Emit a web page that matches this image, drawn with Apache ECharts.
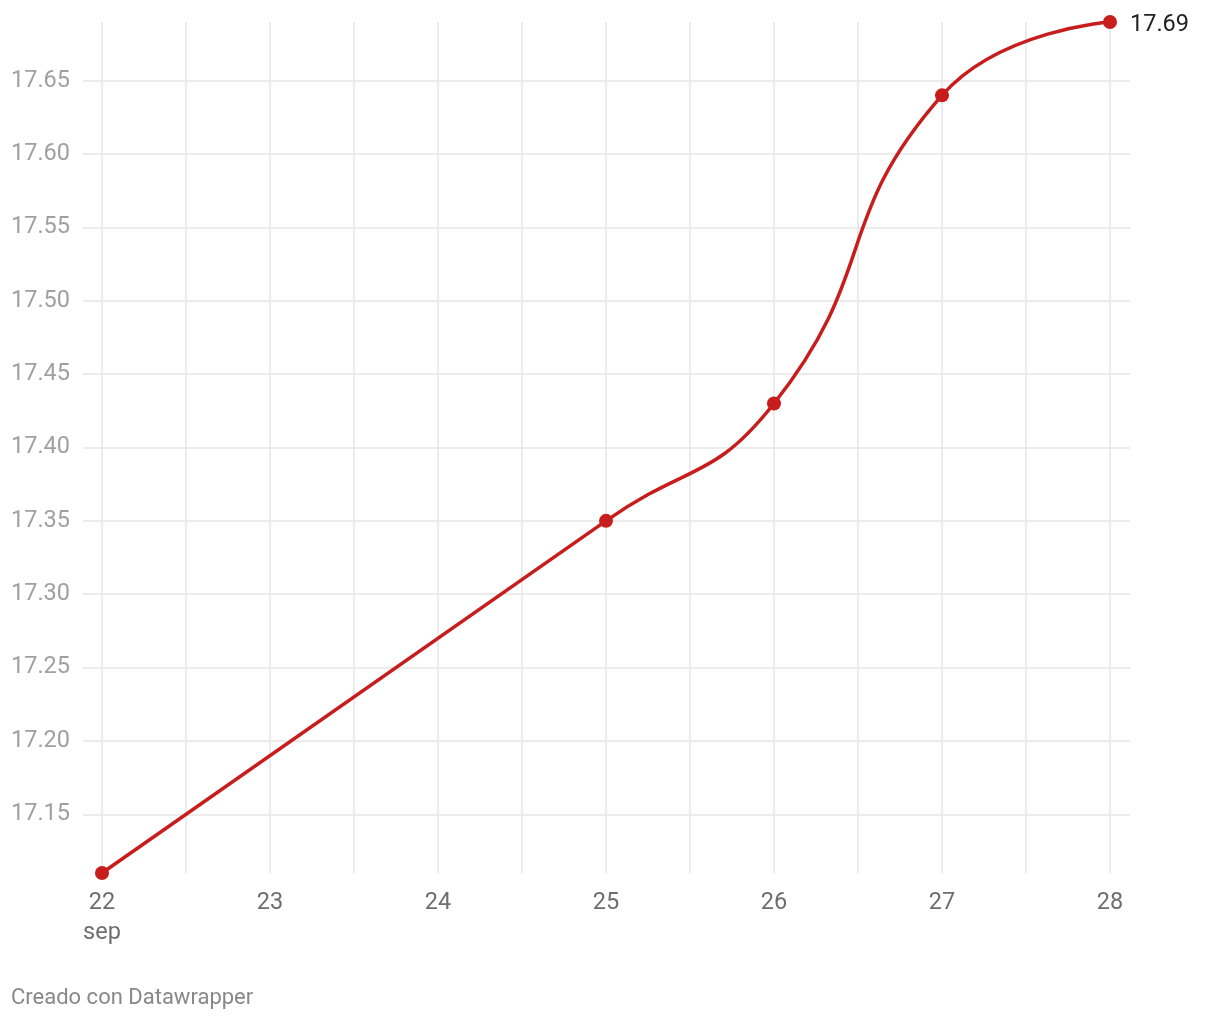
<!DOCTYPE html>
<html><head><meta charset="utf-8">
<script src="https://cdn.jsdelivr.net/npm/echarts@6/dist/echarts.min.js"></script>
<style>html,body{margin:0;padding:0;background:#fff}#c{width:1220px;height:1020px}</style>
</head><body><div id="c"></div>
<script>
const days = [22, 25, 26, 27, 28];
const values = [17.11, 17.35, 17.43, 17.64, 17.69];
const monthLabel = 'sep';
const credit = 'Creado con Datawrapper';

const RED = '#c71e1d';
const GRID = '#e6e6e6';
const FONT = 'Roboto';

const seriesData = days.map((d, i) => {
  const item = { value: [d, values[i]] };
  if (i === days.length - 1) {
    item.label = { show: true, position: 'right', distance: 13, offset: [0, 3], formatter: p => p.value[1].toFixed(2),
      color: '#222', fontSize: 23.5, fontFamily: FONT };
  }
  return item;
});

const chart = echarts.init(document.getElementById('c'), null, { renderer: 'canvas' });
chart.setOption({
  animation: false,
  textStyle: { fontFamily: FONT },
  grid: [
    { left: 83, right: 90, top: 7.33, bottom: 132.33 },
    { left: 102, right: 110, top: 22, bottom: 147 }
  ],
  xAxis: [
    { gridIndex: 0, type: 'value', min: 0, max: 1, show: false },
    { gridIndex: 1, type: 'value', min: 22, max: 28, interval: 0.5,
      axisLine: { show: false }, axisTick: { show: false },
      splitLine: { show: true, showMinLine: true, showMaxLine: true, lineStyle: { color: GRID, width: 1.5 } },
      axisLabel: { margin: 15, color: '#6e6e6e', fontSize: 23.5, fontFamily: FONT, lineHeight: 30,
        formatter: v => (Math.abs(v - Math.round(v)) > 1e-6 ? '' : (v === days[0] ? v + '\n' + monthLabel : String(v))) } }
  ],
  yAxis: [
    { gridIndex: 0, type: 'value', min: 17.10, max: 17.70, interval: 0.05,
      axisLine: { show: false }, axisTick: { show: false },
      splitLine: { show: true, showMinLine: false, showMaxLine: false, lineStyle: { color: GRID, width: 1.5 } },
      axisLabel: { showMinLabel: false, showMaxLabel: false, margin: 13, color: '#a0a0a0', fontSize: 23.5, fontFamily: FONT,
        formatter: v => v.toFixed(2) } },
    { gridIndex: 1, type: 'value', min: 17.11, max: 17.69, show: false }
  ],
  series: [{
    type: 'line', xAxisIndex: 1, yAxisIndex: 1,
    data: seriesData,
    smooth: 0.5,
    symbol: 'circle', symbolSize: 14,
    itemStyle: { color: RED },
    lineStyle: { color: RED, width: 3.5 },
    z: 5
  }],
  graphic: [{
    type: 'text', left: 11, top: 987,
    style: { text: credit, fill: '#888', fontSize: 22, fontFamily: FONT }
  }]
});
</script></body></html>
